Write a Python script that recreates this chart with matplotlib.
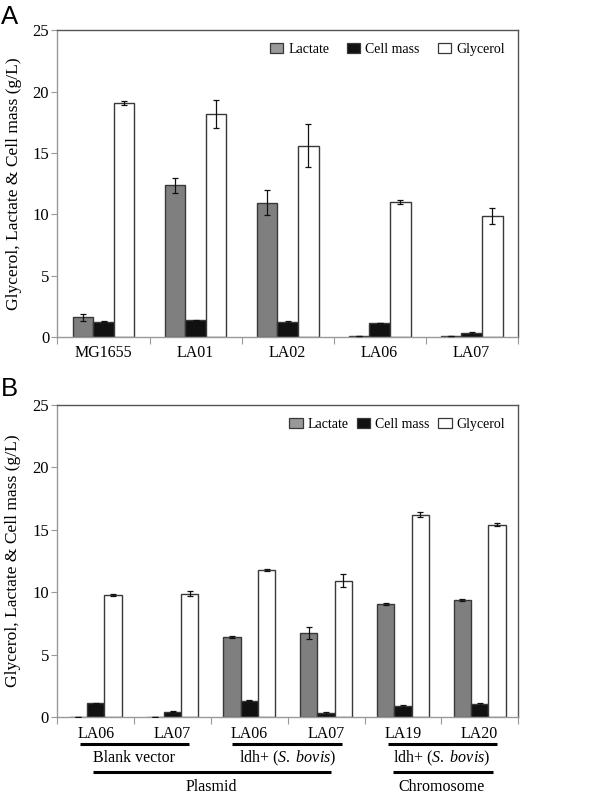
import matplotlib
matplotlib.use("Agg")
import matplotlib.pyplot as plt
import numpy as np
from matplotlib.patches import Patch
from matplotlib.transforms import blended_transform_factory

plt.rcParams['font.family'] = ['Liberation Serif', 'DejaVu Serif']
plt.rcParams['mathtext.fontset'] = 'custom'
plt.rcParams['mathtext.rm'] = 'Liberation Serif'
plt.rcParams['mathtext.it'] = 'Liberation Serif:italic'

# Panel A data
a_strains = ["MG1655", "LA01", "LA02", "LA06", "LA07"]
a_lactate = [1.6, 12.35, 10.95, 0.05, 0.05]
a_lactate_err = [0.3, 0.65, 1.0, 0.0, 0.0]
a_cell = [1.25, 1.38, 1.2, 1.15, 0.35]
a_cell_err = [0.03, 0.03, 0.08, 0.03, 0.07]
a_glycerol = [19.08, 18.2, 15.6, 11.0, 9.83]
a_glycerol_err = [0.15, 1.15, 1.75, 0.15, 0.65]

# Panel B data
b_strains = ["LA06", "LA07", "LA06", "LA07", "LA19", "LA20"]
b_lactate = [0.05, 0.05, 6.43, 6.75, 9.07, 9.42]
b_lactate_err = [0.0, 0.0, 0.05, 0.45, 0.05, 0.08]
b_cell = [1.12, 0.45, 1.33, 0.32, 0.93, 1.07]
b_cell_err = [0.04, 0.04, 0.03, 0.1, 0.08, 0.05]
b_glycerol = [9.79, 9.9, 11.77, 10.94, 16.22, 15.42]
b_glycerol_err = [0.1, 0.2, 0.1, 0.5, 0.2, 0.12]

series_names = ["Lactate", "Cell mass", "Glycerol"]
ylabel = "Glycerol, Lactate & Cell mass (g/L)"

fill_colors = ["#7f7f7f", "#111111", "#ffffff"]
edge_color = "#383838"

fig = plt.figure(figsize=(6.0, 7.95), dpi=100)
axA = fig.add_axes([0.0958, 0.576, 0.767, 0.386])
axB = fig.add_axes([0.0955, 0.0977, 0.768, 0.393])

def draw(ax, strains, vals, errs, colspacing):
    n = len(strains)
    x = np.arange(n)
    w = 0.224
    offs = [-w, 0, w]
    for k in range(3):
        ax.bar(x + offs[k], vals[k], w, color=fill_colors[k], edgecolor=edge_color,
               linewidth=1.0, zorder=2)
        ax.errorbar(x + offs[k], vals[k], yerr=errs[k], fmt='none', ecolor='#111111',
                    elinewidth=0.9, capsize=2.2, capthick=0.9, zorder=3)
    ax.set_xlim(-0.5, n - 0.5)
    ax.set_ylim(0, 25)
    ax.set_yticks([0, 5, 10, 15, 20, 25])
    ax.set_xticks(x)
    ax.set_xticklabels(strains, fontsize=11.5)
    ax.set_xticks(np.arange(n + 1) - 0.5, minor=True)
    ax.tick_params(axis='x', which='major', length=0, pad=6)
    ax.tick_params(axis='x', which='minor', length=5, color='#999999', width=0.8)
    ax.tick_params(axis='y', length=4, color='#999999', width=0.8, labelsize=12, pad=2)
    for s in ['left', 'bottom']:
        ax.spines[s].set_color('#999999')
    for s in ['top', 'right']:
        ax.spines[s].set_color('#555555')
    for s in ax.spines.values():
        s.set_linewidth(1.0)
    ax.set_ylabel(ylabel, fontsize=12.6)
    handles = [Patch(facecolor=fill_colors[k] if k != 0 else '#999999',
                     edgecolor=edge_color, linewidth=0.9) for k in range(3)]
    ax.legend(handles, series_names, loc='upper right', bbox_to_anchor=(0.99, 0.985),
              ncol=3, frameon=False, fontsize=10, handlelength=0.95, handleheight=0.75,
              handletextpad=0.36, columnspacing=colspacing, borderaxespad=0.2)

draw(axA, a_strains, [a_lactate, a_cell, a_glycerol],
     [a_lactate_err, a_cell_err, a_glycerol_err], 1.3)
draw(axB, b_strains, [b_lactate, b_cell, b_glycerol],
     [b_lactate_err, b_cell_err, b_glycerol_err], 0.62)

for ax in (axA, axB):
    ax.yaxis.set_label_coords(-0.078, 0.5)

fig.text(0.002, 0.9935, "A", fontsize=18.5, family='Liberation Sans', va='top', ha='left')
fig.text(0.002, 0.5255, "B", fontsize=18.5, family='Liberation Sans', va='top', ha='left')

# Group annotations under panel B
tr = blended_transform_factory(axB.transData, axB.transAxes)
def hline(x0, x1, y):
    axB.plot([x0, x1], [y, y], transform=tr, color='black', lw=2.2, clip_on=False,
             solid_capstyle='butt')

y1, t1, y2, t2 = -0.086, -0.131, -0.176, -0.224
hline(-0.21, 1.21, y1)
hline(1.78, 3.21, y1)
hline(3.80, 5.22, y1)
hline(-0.03, 3.06, y2)
hline(3.87, 5.17, y2)
axB.text(0.5, t1, "Blank vector", transform=tr, ha='center', va='center', fontsize=11.5)
axB.text(2.5, t1, "ldh+ ($\\it{S.\\ bovis)}$", transform=tr, ha='center', va='center', fontsize=11.5)
axB.text(4.5, t1, "ldh+ ($\\it{S.\\ bovis}$)", transform=tr, ha='center', va='center', fontsize=11.5)
axB.text(1.5, t2, "Plasmid", transform=tr, ha='center', va='center', fontsize=11.5)
axB.text(4.5, t2, "Chromosome", transform=tr, ha='center', va='center', fontsize=11.5)

fig.savefig("out.png", dpi=100)
